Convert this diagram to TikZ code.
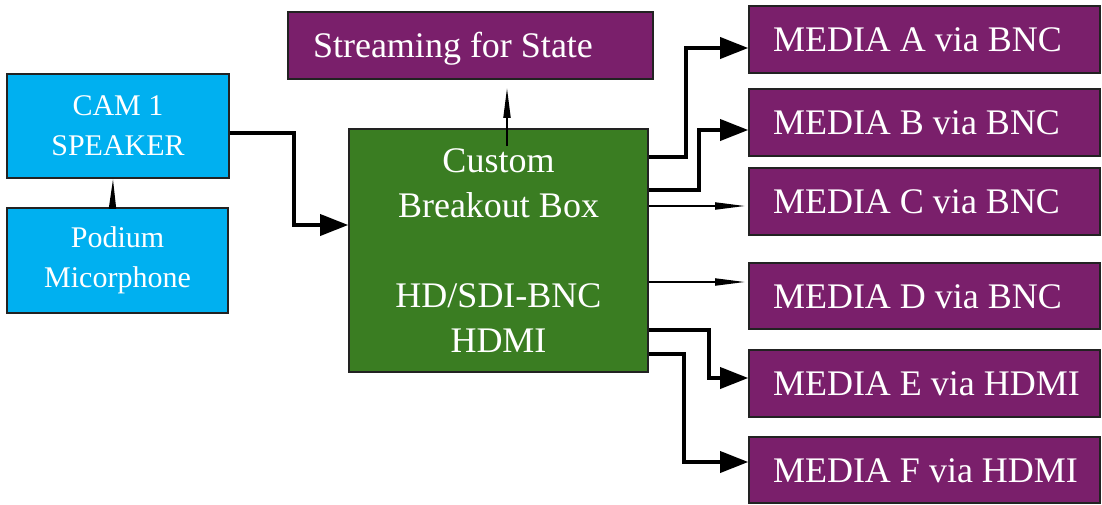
\documentclass[tikz,border=0pt]{standalone}
\usepackage{fontspec}
\setmainfont{Liberation Serif}
\usetikzlibrary{arrows.meta,calc}
\definecolor{camblue}{HTML}{00B0F0}
\definecolor{mediapurple}{HTML}{7A1F6B}
\definecolor{boxgreen}{HTML}{3A7D22}
\definecolor{edgegray}{HTML}{222222}
\newcommand{\padlabel}[2]{\makebox[#1][l]{#2}}
\tikzset{
  block/.style={draw=edgegray, line width=1.6pt, text=white, inner sep=0pt},
  srcbox/.style={block, fill=camblue, align=center,
    font=\fontsize{30}{40}\selectfont},
  hubbox/.style={block, fill=boxgreen, align=center,
    font=\fontsize{36}{45}\selectfont},
  outbox/.style={block, fill=mediapurple, inner xsep=24pt,
    text height=24pt, text depth=0pt,
    font=\fontsize{36}{44}\selectfont},
  heavy/.style={line width=3.6pt, -{Triangle[length=28pt,width=21pt]}},
  light/.style={line width=1.8pt, -{Triangle[length=30pt,width=7pt]}},
}
\begin{document}
\begin{tikzpicture}[x=1pt,y=-1pt]
\useasboundingbox (0,0) rectangle (1102,504);

% sources
\node[srcbox, minimum width=222pt, minimum height=104pt] (cam) at (118,126)
  {CAM 1\\SPEAKER};
\node[srcbox, minimum width=221pt, minimum height=105pt] (podium) at (117.5,260.5)
  {Podium\\Micorphone};

% breakout box
\node[hubbox, minimum width=299pt, minimum height=243pt] (hub) at (498.5,250.5)
  {Custom\\Breakout Box\\[45pt]HD/SDI-BNC\\HDMI};

% outputs
\node[outbox, minimum height=67pt, inner xsep=25pt] (stream) at (470.5,45.5)
  {\padlabel{315pt}{Streaming for State}};
\node[outbox, minimum height=67pt] (mA) at (924.5,39.5) {\padlabel{303pt}{MEDIA A via BNC}};
\node[outbox, minimum height=67pt] (mB) at (924.5,122.5) {\padlabel{303pt}{MEDIA B via BNC}};
\node[outbox, minimum height=67pt] (mC) at (924.5,201.5) {\padlabel{303pt}{MEDIA C via BNC}};
\node[outbox, minimum height=66pt] (mD) at (924.5,296) {\padlabel{303pt}{MEDIA D via BNC}};
\node[outbox, minimum height=67pt] (mE) at (924.5,383.5) {\padlabel{303pt}{MEDIA E via HDMI}};
\node[outbox, minimum height=66pt] (mF) at (924.5,470) {\padlabel{303pt}{MEDIA F via HDMI}};

% connectors
\draw[light] ([xshift=-5pt]podium.north) -- ([xshift=-5pt]cam.south);
\draw[heavy] ([yshift=-7pt]cam.east) -- ++(64,0) |- ([yshift=25.5pt]hub.west);
\draw[light] ([xshift=8.5pt,yshift=-18pt]hub.north) coordinate (s0)
  -- ([yshift=-8pt]s0 |- stream.south);

\draw[heavy] ([yshift=93.5pt]hub.east) -- ++(37,0) |- ([yshift=-8.5pt]mA.west);
\draw[heavy] ([yshift=60.5pt]hub.east) -- ++(50,0) |- ([yshift=-7.5pt]mB.west);
\draw[light] ([yshift=44.5pt]hub.east) coordinate (c0) -- ([xshift=-3pt]c0 -| mC.west);
\draw[light] ([yshift=-31.5pt]hub.east) coordinate (d0) -- ([xshift=-3pt]d0 -| mD.west);
\draw[heavy] ([yshift=-79.5pt]hub.east) -- ++(60,0) |- ([yshift=5.5pt]mE.west);
\draw[heavy] ([yshift=-103.5pt]hub.east) -- ++(35,0) |- ([yshift=8pt]mF.west);
\end{tikzpicture}
\end{document}
